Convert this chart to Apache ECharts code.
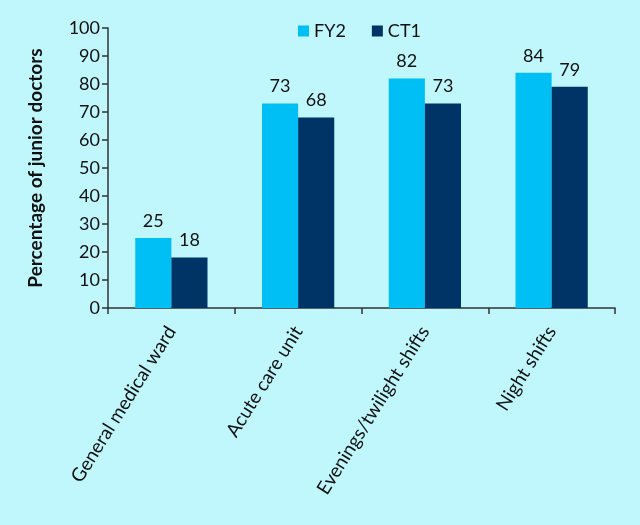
<!DOCTYPE html>
<html><head><meta charset="utf-8">
<script src="https://cdn.jsdelivr.net/npm/echarts@6/dist/echarts.min.js"></script>
<style>html,body{margin:0;padding:0;background:#bff7fc;}#c{width:640px;height:525px;}</style>
</head><body><div id="c"></div>
<script>
var categories = ['General medical ward', 'Acute care unit', 'Evenings/twilight shifts', 'Night shifts'];
var fy2 = [25, 73, 82, 84];
var ct1 = [18, 68, 73, 79];
var seriesNames = ['FY2', 'CT1'];
var yTicks = {min: 0, max: 100, interval: 10};

var font = 'Lato';
var chart = echarts.init(document.getElementById('c'));
chart.setOption({
  backgroundColor: '#bff7fc',
  textStyle: {fontFamily: font},
  legend: {
    top: 17, left: 293, itemWidth: 11, itemHeight: 11, itemGap: 26,
    icon: 'rect',
    textStyle: {fontFamily: font, fontSize: 18, color: '#111'},
    data: seriesNames
  },
  grid: {left: 108, right: 25, top: 28, bottom: 217, containLabel: false},
  xAxis: {
    type: 'category', data: categories,
    axisLine: {lineStyle: {color: '#333', width: 1.5}},
    axisTick: {show: true, length: 6, lineStyle: {color: '#333', width: 1.5}},
    axisLabel: {rotate: 58, fontSize: 19, color: '#111', fontFamily: font, margin: 20, interval: 0}
  },
  yAxis: {
    type: 'value', min: yTicks.min, max: yTicks.max, interval: yTicks.interval,
    name: 'Percentage of junior doctors', nameLocation: 'middle', nameGap: 63,
    nameTextStyle: {fontSize: 19, fontWeight: 'bold', color: '#111', fontFamily: font},
    axisLine: {show: true, lineStyle: {color: '#333', width: 1.5}},
    axisTick: {show: true, length: 6, lineStyle: {color: '#333', width: 1.5}},
    axisLabel: {fontSize: 18, color: '#111', fontFamily: font, margin: 8},
    splitLine: {show: false}
  },
  series: [
    {name: seriesNames[0], type: 'bar', data: fy2, barGap: '0%', barCategoryGap: '43%',
     itemStyle: {color: '#00bff5'},
     label: {show: true, position: 'top', fontSize: 18, color: '#111', fontFamily: font, distance: 8}},
    {name: seriesNames[1], type: 'bar', data: ct1, barGap: '0%', barCategoryGap: '43%',
     itemStyle: {color: '#003366'},
     label: {show: true, position: 'top', fontSize: 18, color: '#111', fontFamily: font, distance: 8}}
  ]
});
</script></body></html>
